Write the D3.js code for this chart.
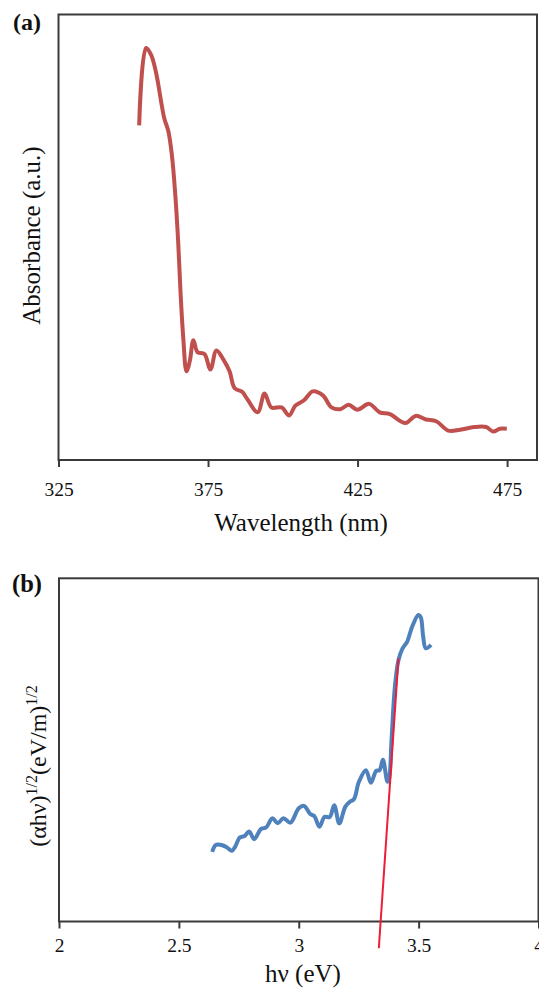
<!DOCTYPE html>
<html>
<head>
<meta charset="utf-8">
<script src="https://cdn.jsdelivr.net/npm/d3@7"></script>
<style>
  html, body { margin: 0; padding: 0; background: #fff; }
  svg { display: block; }
  text { font-family: "Liberation Serif", "Times New Roman", serif; fill: #111; }
</style>
</head>
<body>
<svg id="fig" width="539" height="988"></svg>
<script>
// (a) UV-vis absorption spectrum
const wavelengthNm = [351.97, 354.27, 356.0, 357.7, 359.4, 360.4, 361.7, 362.9, 364.0, 365.0,
  365.8, 366.7, 367.8, 368.9, 370.1, 371.5, 373.8, 375.8, 377.8, 380.1,
  382.2, 383.9, 386.4, 388.1, 391.6, 393.9, 396.2, 399.6, 402.1, 404.2,
  407.1, 410.0, 413.4, 416.3, 419.2, 422.0, 424.9, 428.9, 432.4, 435.8,
  441.0, 444.4, 447.9, 451.3, 455.3, 459.3, 464.0, 468.0, 470.3, 472.6, 474.9];
const absorbance = [0.751, 0.925, 0.909, 0.867, 0.801, 0.766, 0.739, 0.685, 0.600, 0.492,
  0.377, 0.276, 0.199, 0.222, 0.269, 0.242, 0.238, 0.203, 0.246, 0.226,
  0.199, 0.161, 0.153, 0.137, 0.107, 0.149, 0.118, 0.118, 0.100, 0.122,
  0.134, 0.154, 0.145, 0.118, 0.114, 0.124, 0.113, 0.126, 0.107, 0.103,
  0.083, 0.099, 0.091, 0.087, 0.066, 0.068, 0.074, 0.074, 0.064, 0.070, 0.070];
const wavelengthTicks = [325, 375, 425, 475];

// (b) Tauc plot with linear extrapolation to the band gap
const photonEnergy = [2.639, 2.654, 2.678, 2.700, 2.721, 2.735, 2.753, 2.774, 2.793, 2.814,
  2.843, 2.864, 2.890, 2.912, 2.936, 2.965, 3.000, 3.022, 3.048, 3.065,
  3.086, 3.108, 3.129, 3.148, 3.169, 3.194, 3.213, 3.230, 3.251, 3.280,
  3.301, 3.323, 3.337, 3.351, 3.370, 3.377, 3.387, 3.401, 3.416, 3.433,
  3.452, 3.473, 3.499, 3.509, 3.519, 3.530, 3.552];
const taucValue = [0.203, 0.223, 0.223, 0.216, 0.206, 0.218, 0.244, 0.249, 0.262, 0.240,
  0.270, 0.274, 0.301, 0.286, 0.301, 0.288, 0.330, 0.337, 0.313, 0.307,
  0.276, 0.305, 0.304, 0.339, 0.286, 0.334, 0.349, 0.356, 0.407, 0.441,
  0.404, 0.439, 0.441, 0.471, 0.407, 0.417, 0.529, 0.684, 0.762, 0.796,
  0.815, 0.859, 0.893, 0.886, 0.830, 0.796, 0.806];
const fitEnergy = [3.334, 3.416];
const fitValue = [-0.078, 0.767];
const energyTicks = [2, 2.5, 3, 3.5, 4];

const svg = d3.select("#fig");
const frameColor = "#3a3a3a";

function panel(cfg) {
  const g = svg.append("g");
  const x = d3.scaleLinear().domain(cfg.xDomain).range([cfg.left, cfg.right]);
  const y = d3.scaleLinear().domain([0, 1]).range([cfg.bottom, cfg.top]);

  // frame
  g.append("rect")
    .attr("x", cfg.left).attr("y", cfg.top)
    .attr("width", cfg.right - cfg.left).attr("height", cfg.bottom - cfg.top)
    .attr("fill", "none").attr("stroke", frameColor).attr("stroke-width", 2);

  // bottom axis
  const ax = g.append("g")
    .attr("transform", `translate(0,${cfg.bottom})`)
    .call(d3.axisBottom(x).tickValues(cfg.ticks).tickSize(7).tickSizeOuter(0)
      .tickFormat(d => String(d)));
  ax.select(".domain").remove();
  ax.selectAll(".tick line").attr("stroke", frameColor).attr("stroke-width", 2);
  ax.selectAll(".tick text")
    .attr("y", cfg.tickLabelDy).attr("dy", null)
    .style("font-family", '"Liberation Serif", serif')
    .style("font-size", "19.5px").attr("fill", "#111");

  return { g, x, y };
}

// ---------- panel (a) ----------
const A = panel({ xDomain: [325, 485], left: 58.5, right: 537, top: 14.5, bottom: 460,
  ticks: wavelengthTicks, tickLabelDy: 36 });

A.g.append("path")
  .datum(d3.zip(wavelengthNm, absorbance))
  .attr("fill", "none").attr("stroke", "#c0504d").attr("stroke-width", 4)
  .attr("stroke-linejoin", "round").attr("stroke-linecap", "butt")
  .attr("d", d3.line().x(d => A.x(d[0])).y(d => A.y(d[1])).curve(d3.curveCatmullRom.alpha(0.5)));

A.g.append("text").attr("x", 301).attr("y", 531).attr("text-anchor", "middle")
  .style("font-size", "25px").text("Wavelength (nm)");
A.g.append("text").attr("transform", "translate(39.5,235.5) rotate(-90)")
  .attr("text-anchor", "middle").style("font-size", "25px").text("Absorbance (a.u.)");
A.g.append("text").attr("x", 13).attr("y", 30).style("font-size", "24px")
  .style("font-weight", "bold").text("(a)");

// ---------- panel (b) ----------
const B = panel({ xDomain: [2, 4], left: 59, right: 538.5, top: 578.3, bottom: 921.5,
  ticks: energyTicks, tickLabelDy: 30 });

B.g.append("path")
  .datum(d3.zip(photonEnergy, taucValue))
  .attr("fill", "none").attr("stroke", "#4f81bd").attr("stroke-width", 4)
  .attr("stroke-linejoin", "round").attr("stroke-linecap", "butt")
  .attr("d", d3.line().x(d => B.x(d[0])).y(d => B.y(d[1])).curve(d3.curveCatmullRom.alpha(0.5)));

B.g.append("path")
  .datum(d3.zip(fitEnergy, fitValue))
  .attr("fill", "none").attr("stroke", "#ee1c34").attr("stroke-width", 2)
  .attr("d", d3.line().x(d => B.x(d[0])).y(d => B.y(d[1])));

B.g.append("text").attr("x", 303).attr("y", 982).attr("text-anchor", "middle")
  .style("font-size", "25px").text("hν (eV)");

const yt = B.g.append("text").attr("transform", "translate(46,766) rotate(-90)")
  .attr("text-anchor", "middle").style("font-size", "24px");
yt.append("tspan").text("(αhν)");
yt.append("tspan").attr("dy", -9).style("font-size", "16px").text("1/2");
yt.append("tspan").attr("dy", 9).text("(eV/m)");
yt.append("tspan").attr("dy", -9).style("font-size", "16px").text("1/2");

B.g.append("text").attr("x", 12).attr("y", 592).style("font-size", "24.5px")
  .style("font-weight", "bold").text("(b)");
</script>
</body>
</html>
